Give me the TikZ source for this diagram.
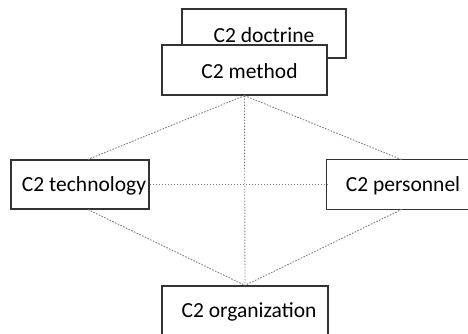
\documentclass[tikz,border=0pt]{standalone}
\usepackage{fontspec}
\setmainfont{Carlito}
\usetikzlibrary{calc}
\begin{document}
\begin{tikzpicture}[x=1pt,y=-1pt,
  boxline/.style={draw=black!80, line width=1.2pt},
  box/.style={boxline, fill=white, rectangle, inner sep=0pt},
  boxtext/.style={font=\fontsize{21.5}{25}\selectfont, text=black},
  link/.style={draw=black!50, line width=0.9pt, dash pattern=on 1.6pt off 1.4pt}]
  \useasboundingbox (0,0) rectangle (468,333);
  \clip (0,0) rectangle (468,333);

  % stacked boxes at the top
  \node[box, minimum width=164pt, minimum height=49pt] (doctrine) at (264,33.5) {};
  \node[boxtext] at ($(doctrine.center)+(0,2)$) {C2 doctrine};
  \node[box, minimum width=165pt, minimum height=50pt] (method) at (244.5,70) {};
  \node[boxtext] at ($(method.center)+(5,1)$) {C2 method};

  % side boxes; the right one runs off the edge of the page
  \node[box, minimum width=138pt, minimum height=49pt] (tech) at (80,184.5) {};
  \node[boxtext] at ($(tech.center)+(4,1)$) {C2 technology};
  \node[fill=white, inner sep=0pt, minimum width=150pt, minimum height=49pt] (pers) at (402,184.5) {};
  \draw[boxline] (pers.north east) -- (pers.north west) -- (pers.south west) -- (pers.south east);
  \node[boxtext] at ($(pers.center)+(1,1)$) {C2 personnel};

  % bottom box, cut by the lower edge
  \node[box, minimum width=166pt, minimum height=50pt] (org) at (245,311) {};
  \node[boxtext] at ($(org.center)+(4,1)$) {C2 organization};

  % dotted relations
  \draw[link] (method.south) -- ([xshift=8pt]tech.north);
  \draw[link] (method.south) -- (pers.north);
  \draw[link] (method.south) -- (org.north);
  \draw[link] (tech.east) -- (pers.west);
  \draw[link] ([xshift=8pt]tech.south) -- (org.north);
  \draw[link] (pers.south) -- (org.north);
\end{tikzpicture}
\end{document}
